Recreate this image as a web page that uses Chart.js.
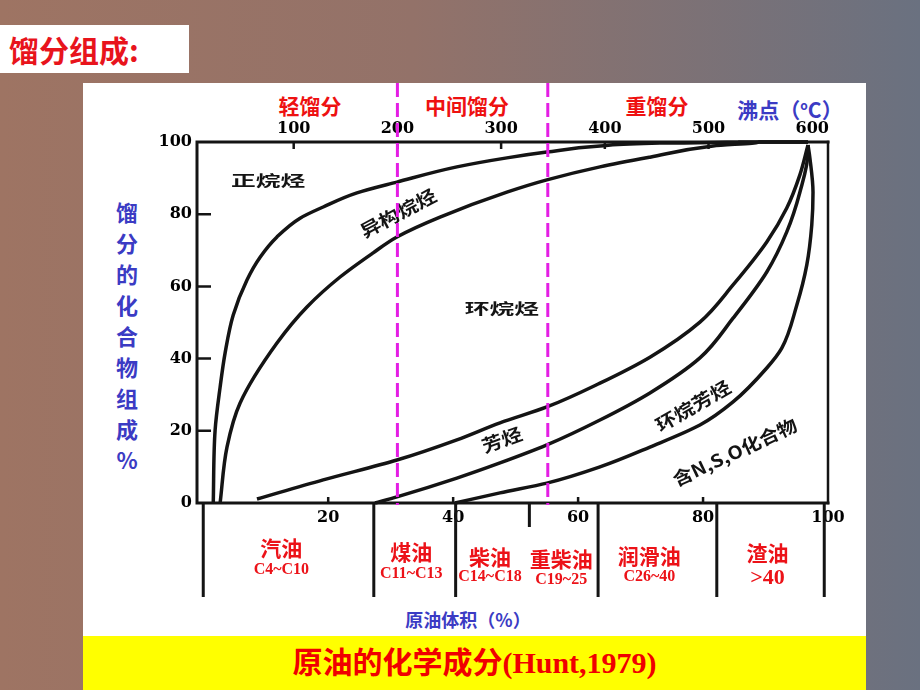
<!DOCTYPE html>
<html><head><meta charset="utf-8">
<script src="https://cdn.jsdelivr.net/npm/chart.js@4.4.1/dist/chart.umd.min.js"></script>
<style>
html,body{margin:0;padding:0;}
body{width:920px;height:690px;position:relative;overflow:hidden;
  background:linear-gradient(to right,#9e7463 0%,#937269 45%,#6a7180 100%);
  font-family:"Noto Sans CJK SC",sans-serif;}
.abs{position:absolute;}
#titleBox{left:0;top:25px;width:189px;height:48px;background:#fff;}
#titleBox span{position:absolute;left:9px;top:5px;font-size:30px;line-height:38px;font-weight:bold;color:#e8141c;}
#panel{left:83px;top:83px;width:783px;height:553px;background:#fff;}
#caption{left:83px;top:636px;width:783px;height:54px;background:#ffff00;color:#f00000;text-align:center;
  font:bold 30px "Liberation Serif","Noto Sans CJK SC";line-height:54px;}
.top{top:92px;font-size:21px;font-weight:bold;line-height:26px;color:#ee1111;transform:translateX(-50%);white-space:nowrap;}
#ytitle{left:113px;top:196px;width:28px;color:#3b3bc4;font-size:22px;font-weight:bold;line-height:31px;text-align:center;}
#xtitle{left:468px;top:607px;transform:translateX(-50%);color:#3b3bc4;font-size:18px;font-weight:bold;line-height:24px;white-space:nowrap;}
canvas{position:absolute;left:0;top:0;}
</style></head><body>
<div id="titleBox" class="abs"><span>馏分组成:</span></div>
<div id="panel" class="abs"></div>
<div class="abs top" style="left:310px">轻馏分</div>
<div class="abs top" style="left:467px">中间馏分</div>
<div class="abs top" style="left:657px">重馏分</div>
<div class="abs top" style="left:790px;color:#3b3bc4">沸点（<sup style="font-size:12px">o</sup>C）</div>
<div id="ytitle" class="abs">馏<br>分<br>的<br>化<br>合<br>物<br>组<br>成<br>%</div>
<div id="xtitle" class="abs">原油体积（%）</div>
<div id="caption" class="abs">原油的化学成分(Hunt,1979)</div>
<canvas id="c" width="920" height="690"></canvas>
<script>
// 累积曲线：x = 原油体积 %, y = 馏分的化合物组成 %
const nParaffinX = [1.6, 1.9, 2.7, 3.5, 4.8, 7.0, 9.1, 11.8, 15.5, 19.2, 24.6, 31.0, 40.6, 48.6, 55.0, 63.5, 73.1, 85.9, 96.8];
const nParaffinY = [0, 20.2, 32.1, 41.6, 52.1, 61.8, 68.1, 73.7, 78.9, 82.0, 85.9, 88.9, 93.1, 95.6, 97.2, 98.9, 99.7, 100, 100];

const isoParaffinX = [2.7, 3.8, 5.9, 11.8, 16.6, 21.9, 27.2, 31.0, 37.9, 48.6, 55.0, 63.5, 71.5, 81.6, 89.1, 96.8];
const isoParaffinY = [0, 15.5, 27.7, 44.3, 54.3, 62.6, 69.3, 73.7, 79.2, 86.1, 89.5, 93.1, 95.8, 98.9, 100, 100];

const naphtheneX = [8.6, 19.2, 31.0, 40.6, 47.5, 55.0, 63.5, 71.5, 79.5, 84.8, 90.2, 93.4, 95.5, 96.8];
const naphtheneY = [1.1, 6.4, 11.9, 17.5, 22.2, 26.6, 33.2, 40.4, 50.1, 60.4, 72.3, 81.7, 90.9, 99.2];

const aromaticX = [27.5, 31.0, 40.6, 47.5, 55.0, 63.5, 71.5, 79.5, 84.8, 90.2, 93.4, 95.5, 96.8, 96.8];
const aromaticY = [0, 1.7, 6.9, 11.1, 16.1, 23.0, 30.5, 40.2, 51.2, 64.0, 75.1, 86.1, 97.2, 99.2];

const naphAromX = [40.3, 47.5, 55.0, 63.5, 71.5, 79.5, 84.8, 90.2, 92.6, 95.0, 96.6, 97.4, 97.6, 97.1, 96.8];
const naphAromY = [0, 2.8, 5.5, 10.0, 15.5, 21.6, 28.0, 37.4, 42.9, 54.8, 65.9, 77.0, 86.1, 95.6, 99.2];

// 坐标轴刻度
const volTicks = [20, 40, 60, 80, 100];
const pctTicks = [0, 20, 40, 60, 80, 100];
const bpTicks = [100, 200, 300, 400, 500, 600];
const cutPointsBP = [200, 345];

// 馏分产品
const fuelNames = ['汽油', '煤油', '柴油', '重柴油', '润滑油', '渣油'];
const fuelCarbon = ['C4~C10', 'C11~C13', 'C14~C18', 'C19~25', 'C26~40', '>40'];
const fuelCenters = [12.5, 33.3, 45.9, 57.3, 71.4, 90.3];
const fuelBounds = [0, 27.3, 40.4, 63.2, 82.2, 99.4];
const fuelMinorBounds = [52.2];

// 曲线区域名称
const areaNames = ['正烷烃', '异构烷烃', '环烷烃', '芳烃', '环烷芳烃', '含N,S,O化合物'];
const areaX = [10.4, 31.2, 47.8, 47.8, 78.4, 85.1];
const areaY = [89.5, 80.3, 54.0, 17.5, 26.9, 14.1];

// 样式
const areaRot = [0, -28, 0, -20, -30, -25];
const areaStretch = [1.65, 1.15, 1.65, 1.15, 1.15, 1.1];
const areaSize = [15, 18, 15, 18, 18, 18];
const nameDy = [45, 49, 54, 56, 53, 50];
const carbonDy = [67, 71, 74, 77, 74, 75];

const tickFont = { family: '"DejaVu Serif"', size: 16, weight: 'bold' };
const RED = '#ec1218', INK = '#141414';

// 曲线沿 y 方向单调，按 y 做单调插值
const curve = (xs, ys) => ({
  data: xs.map((v, i) => ({ x: v, y: ys[i] })),
  indexAxis: 'y', cubicInterpolationMode: 'monotone',
  showLine: true, borderColor: INK, borderWidth: 3.5, pointRadius: 0,
  clip: false, xAxisID: 'x', yAxisID: 'y'
});

const decor = {
  id: 'decor',
  afterDatasetsDraw(chart) {
    const { ctx, chartArea: a, scales: { x, y, x2 } } = chart;
    ctx.save();
    ctx.strokeStyle = INK; ctx.lineCap = 'square';

    // 边框
    ctx.lineWidth = 3;
    ctx.beginPath();
    ctx.moveTo(a.left, a.bottom); ctx.lineTo(a.left, a.top); ctx.lineTo(a.right, a.top);
    ctx.moveTo(a.left, a.bottom); ctx.lineTo(a.right, a.bottom);
    ctx.stroke();
    ctx.lineWidth = 2.5;
    ctx.beginPath(); ctx.moveTo(a.right, a.top); ctx.lineTo(a.right, a.bottom); ctx.stroke();

    // 内刻度
    ctx.lineWidth = 2.5; ctx.lineCap = 'butt';
    ctx.beginPath();
    pctTicks.slice(1, -1).forEach(v => { const py = y.getPixelForValue(v); ctx.moveTo(a.left, py); ctx.lineTo(a.left + 14, py); });
    bpTicks.slice(0, -1).forEach(v => { const px = x2.getPixelForValue(v); ctx.moveTo(px, a.top); ctx.lineTo(px, a.top + 7); });
    volTicks.slice(0, -1).forEach(v => { const px = x.getPixelForValue(v); ctx.moveTo(px, a.bottom); ctx.lineTo(px, a.bottom - 6); });
    ctx.stroke();

    // 产品分隔线
    ctx.lineWidth = 3;
    ctx.beginPath();
    fuelBounds.forEach(v => { const px = x.getPixelForValue(v); ctx.moveTo(px, a.bottom); ctx.lineTo(px, a.bottom + 94); });
    fuelMinorBounds.forEach(v => { const px = x.getPixelForValue(v); ctx.moveTo(px, a.bottom); ctx.lineTo(px, a.bottom + 24); });
    ctx.stroke();

    // 产品名称
    ctx.fillStyle = RED; ctx.textAlign = 'center'; ctx.textBaseline = 'middle';
    fuelNames.forEach((n, i) => {
      const px = x.getPixelForValue(fuelCenters[i]);
      ctx.font = 'bold 21px "Noto Sans CJK SC"';
      ctx.fillText(n, px, a.bottom + nameDy[i]);
      ctx.font = (i === 5 ? 'bold 22px' : 'bold 16px') + ' "Liberation Serif"';
      ctx.fillText(fuelCarbon[i], px, a.bottom + carbonDy[i]);
    });

    // 区域名称
    ctx.fillStyle = INK;
    areaNames.forEach((n, i) => {
      ctx.save();
      ctx.translate(x.getPixelForValue(areaX[i]), y.getPixelForValue(areaY[i]));
      ctx.rotate(areaRot[i] * Math.PI / 180);
      ctx.scale(areaStretch[i], 1);
      ctx.font = 'bold ' + areaSize[i] + 'px "Noto Sans CJK SC"';
      ctx.fillText(n, 0, 0);
      ctx.restore();
    });

    // 切割点（虚线）
    ctx.strokeStyle = '#e41ee4'; ctx.lineWidth = 3; ctx.setLineDash([14, 6]);
    ctx.beginPath();
    cutPointsBP.forEach(v => { const px = x2.getPixelForValue(v); ctx.moveTo(px, a.top - 59); ctx.lineTo(px, a.bottom + 2); });
    ctx.stroke();
    ctx.restore();
  }
};

new Chart(document.getElementById('c'), {
  type: 'scatter',
  data: { datasets: [
    curve(nParaffinX, nParaffinY),
    curve(isoParaffinX, isoParaffinY),
    curve(naphtheneX, naphtheneY),
    curve(aromaticX, aromaticY),
    curve(naphAromX, naphAromY)
  ] },
  options: {
    responsive: false, animation: false, events: [],
    layout: { padding: { left: 0, right: 92, top: 112, bottom: 157 } },
    plugins: { legend: { display: false }, tooltip: { enabled: false } },
    scales: {
      x: {
        type: 'linear', position: 'bottom', min: -1, max: 100,
        grid: { display: false, drawTicks: false }, border: { display: false },
        afterBuildTicks: s => { s.ticks = volTicks.map(v => ({ value: v })); },
        afterFit: s => { s.height = 30; },
        ticks: { font: tickFont, color: '#000', padding: 5, maxRotation: 0, autoSkip: false }
      },
      x2: {
        type: 'linear', position: 'top', min: 6.75, max: 615.2,
        grid: { display: false, drawTicks: false }, border: { display: false },
        afterBuildTicks: s => { s.ticks = bpTicks.map(v => ({ value: v })); },
        afterFit: s => { s.height = 30; },
        ticks: { font: tickFont, color: '#000', padding: 4, maxRotation: 0, autoSkip: false }
      },
      y: {
        type: 'linear', position: 'left', min: 0, max: 100,
        grid: { display: false, drawTicks: false }, border: { display: false },
        afterBuildTicks: s => { s.ticks = pctTicks.map(v => ({ value: v })); },
        afterFit: s => { s.width = 197; },
        ticks: { font: tickFont, color: '#000', padding: 5, autoSkip: false }
      }
    }
  },
  plugins: [decor]
});
</script>
</body></html>
